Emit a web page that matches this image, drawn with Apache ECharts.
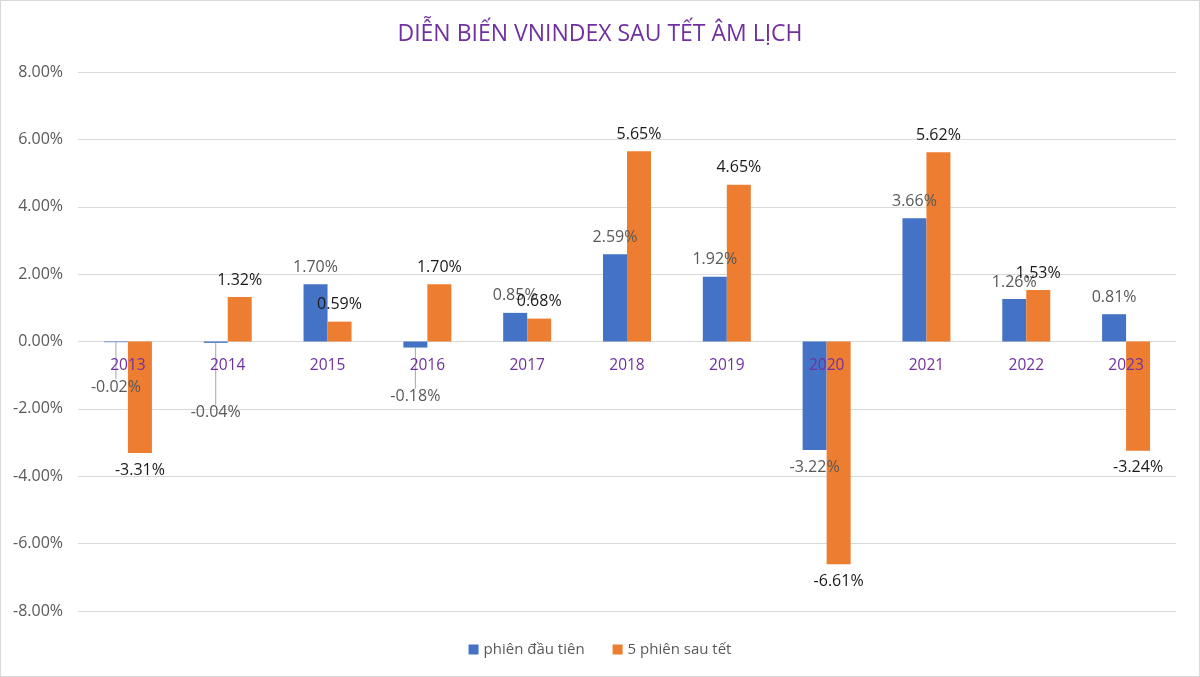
<!DOCTYPE html>
<html>
<head>
<meta charset="utf-8">
<script src="https://cdn.jsdelivr.net/npm/echarts@6/dist/echarts.min.js"></script>
<style>
html,body{margin:0;padding:0;background:#fff;}
#chart{width:1200px;height:677px;box-sizing:border-box;border:1px solid #d9d9d9;}
</style>
</head>
<body>
<div id="chart"></div>
<script>
const categories = ['2013','2014','2015','2016','2017','2018','2019','2020','2021','2022','2023'];
const firstSession = [-0.02, -0.04, 1.70, -0.18, 0.85, 2.59, 1.92, -3.22, 3.66, 1.26, 0.81];
const fiveSessions = [-3.31, 1.32, 0.59, 1.70, 0.68, 5.65, 4.65, -6.61, 5.62, 1.53, -3.24];
const seriesNames = ['phiên đầu tiên', '5 phiên sau tết'];
const titleText = 'DIỄN BIẾN VNINDEX SAU TẾT ÂM LỊCH';
// labels moved away from tiny bars, with a leader line (data index -> shift in px)
const movedLabels = {0: 28, 1: 53, 3: 32};

const fmt = v => v.toFixed(2) + '%';
const font = "'Open Sans', 'Noto Sans', sans-serif";

const gridTop = 71, gridBottom = 65, chartH = 677;
const yMin = -8, yMax = 8;
const plotH = chartH - gridTop - gridBottom;
// move the category axis to the zero line
const zeroOffset = -plotH * (0 - yMin) / (yMax - yMin);

const firstData = firstSession.map((v, i) => movedLabels[i] !== undefined
  ? {value: v, labelLine: {show: true}}
  : {value: v});

const chart = echarts.init(document.getElementById('chart'), null, {renderer: 'canvas'});
chart.setOption({
  animation: false,
  title: {
    text: titleText, left: 'center', top: 17,
    textStyle: {color: '#7030A0', fontSize: 23, fontWeight: 'normal', fontFamily: font}
  },
  legend: {
    bottom: 14, left: 'center', itemWidth: 10, itemHeight: 10, itemGap: 28,
    icon: 'rect',
    textStyle: {color: '#595959', fontSize: 15, fontFamily: font}
  },
  grid: {left: 77, right: 23, top: gridTop, bottom: gridBottom},
  xAxis: {
    type: 'category', data: categories,
    offset: zeroOffset,
    axisLine: {show: false},
    axisTick: {show: false},
    axisLabel: {color: '#7030A0', fontSize: 15.5, margin: 17, fontFamily: font},
    z: 10
  },
  yAxis: {
    type: 'value', min: yMin, max: yMax, interval: 2,
    axisLine: {show: false}, axisTick: {show: false},
    splitLine: {lineStyle: {color: '#d9d9d9'}},
    axisLabel: {color: '#595959', fontSize: 16, margin: 15, fontFamily: font, formatter: v => v.toFixed(2) + '%'}
  },
  series: [
    {
      name: seriesNames[0], type: 'bar', data: firstData,
      barWidth: 24, barGap: '0%',
      itemStyle: {color: '#4472C4'},
      label: {show: true, position: 'outside', distance: 9, color: '#595959', fontSize: 16, fontFamily: font,
        formatter: p => fmt(p.value)},
      labelLine: {show: false, lineStyle: {color: '#a6a6a6', width: 1}},
      labelLayout: p => (movedLabels[p.dataIndex] !== undefined ? {dy: movedLabels[p.dataIndex]} : {}),
      z: 3
    },
    {
      name: seriesNames[1], type: 'bar', data: fiveSessions,
      barWidth: 24, barGap: '0%',
      itemStyle: {color: '#ED7D31'},
      label: {show: true, position: 'outside', distance: 9, color: '#1a1a1a', fontSize: 16, fontFamily: font,
        formatter: p => fmt(p.value)},
      z: 3
    }
  ]
});
</script>
</body>
</html>
